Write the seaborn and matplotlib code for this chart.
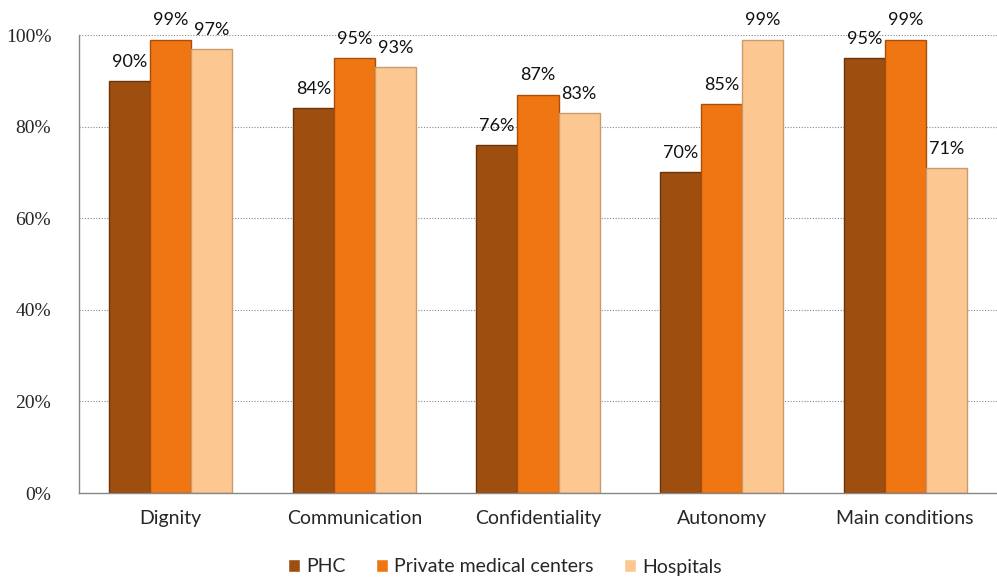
#!/usr/bin/env python3
"""Patient rights satisfaction by facility type - grouped bar chart."""

import pandas as pd
import matplotlib
matplotlib.use("Agg")
import matplotlib.pyplot as plt
from matplotlib.ticker import FuncFormatter
import seaborn as sns

# Chart data
categories = ['Dignity', 'Communication', 'Confidentiality', 'Autonomy', 'Main conditions']
series_names = ['PHC', 'Private medical centers', 'Hospitals']
phc = [90, 84, 76, 70, 95]
private_centers = [99, 95, 87, 85, 99]
hospitals = [97, 93, 83, 99, 71]
y_ticks = [0, 20, 40, 60, 80, 100]

colors = ['#9E4F0F', '#F07513', '#FDC792']
edge_colors = ['#6A3309', '#A94F0B', '#C99A6C']


def build_frame() -> pd.DataFrame:
    """Long-form table for seaborn."""
    rows = []
    for name, values in zip(series_names, [phc, private_centers, hospitals]):
        for cat, val in zip(categories, values):
            rows.append({'category': cat, 'series': name, 'value': val})
    return pd.DataFrame(rows)


def main():
    df = build_frame()

    sns.set_style("white")
    plt.rcParams['font.family'] = ['Lato', 'DejaVu Sans']
    plt.rcParams['font.serif'] = ['Liberation Serif', 'DejaVu Serif']

    fig = plt.figure(figsize=(9.97, 5.77), dpi=100)
    ax = fig.add_axes([79 / 997, 84 / 577, 1 - 79 / 997, (493 - 35) / 577])

    sns.barplot(data=df, x='category', y='value', hue='series',
                order=categories, hue_order=series_names,
                palette=colors, width=0.67, ax=ax, legend=True,
                saturation=1, errorbar=None)

    # Outline + value labels
    for container, ec in zip(ax.containers, edge_colors):
        for bar in container:
            bar.set_edgecolor(ec)
            bar.set_linewidth(1.0)
        ax.bar_label(container, labels=[f"{int(round(b.get_height()))}%" for b in container],
                     padding=8, fontsize=13, color='#111111')

    ax.set_xlim(-0.5, 4.383)
    ax.set_ylim(0, 100)
    ax.set_yticks(y_ticks)
    ax.yaxis.set_major_formatter(FuncFormatter(lambda v, _: f"{int(v)}%"))
    ax.set_xlabel('')
    ax.set_ylabel('')
    ax.tick_params(axis='x', labelsize=14, length=0, pad=12)
    ax.tick_params(axis='y', direction='in', length=7, color='#888888', pad=20,
                   labelsize=14, labelfontfamily='serif')
    ax.set_xticks([i + 0.5 for i in range(5)], minor=True)
    ax.tick_params(axis='x', which='minor', direction='in', length=7, color='#888888')

    # Dotted gridlines
    for t in y_ticks[1:]:
        ax.axhline(t, color='#888888', linestyle=(0, (1, 1.5)), linewidth=0.8, zorder=0)
    ax.set_axisbelow(True)

    for side in ['top', 'right']:
        ax.spines[side].set_visible(False)
    for side in ['left', 'bottom']:
        ax.spines[side].set_color('#888888')
        ax.spines[side].set_linewidth(1.0)

    ax.legend(loc='center', bbox_to_anchor=(505 / 997, 10 / 577),
              bbox_transform=fig.transFigure, ncol=3, frameon=False,
              fontsize=14, handlelength=0.6, handleheight=0.6,
              handletextpad=0.3, columnspacing=1.6)

    fig.savefig('out.png', dpi=100)
    plt.close(fig)


if __name__ == "__main__":
    main()
